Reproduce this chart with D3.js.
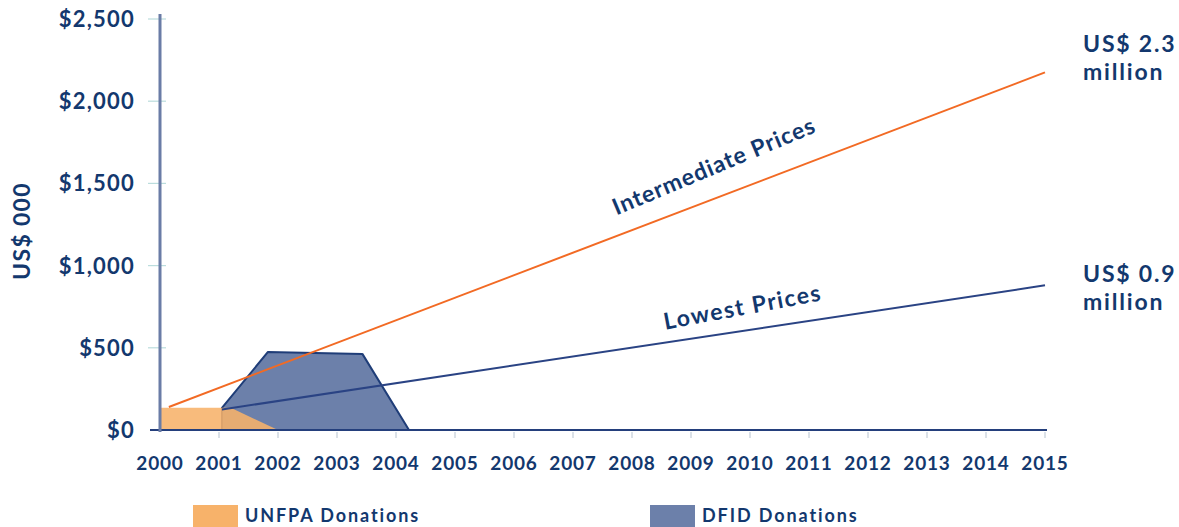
<!DOCTYPE html>
<html>
<head>
<meta charset="utf-8">
<script src="https://cdn.jsdelivr.net/npm/d3@7/dist/d3.min.js"></script>
<style>
  html, body { margin: 0; padding: 0; background: #fff; }
  svg { display: block; }
  text { font-family: Lato, "Open Sans", sans-serif; font-weight: 700; fill: #13386e; }
</style>
</head>
<body>
<svg id="chart" width="1179" height="527"></svg>
<script>
// ---- Data (US$ 000) ----
const years = [2000, 2001, 2002, 2003, 2004, 2005, 2006, 2007, 2008, 2009, 2010, 2011, 2012, 2013, 2014, 2015];
const yTicks = [0, 500, 1000, 1500, 2000, 2500];
const yTickLabels = ["$0", "$500", "$1,000", "$1,500", "$2,000", "$2,500"];

// UNFPA donations area: [year, value]
const unfpaDonations = [[2000, 135], [2001.2, 135], [2002, 0]];
// DFID donations area: [year, value]
const dfidDonations = [[2001.05, 135], [2001.83, 475], [2003.43, 463], [2004.22, 0]];
// Projection lines: [year, value]
const intermediatePrices = [[2000.15, 140], [2015, 2175]];
const lowestPrices = [[2001.05, 125], [2015, 880]];

const seriesLabels = { intermediate: "Intermediate Prices", lowest: "Lowest Prices" };
const endLabels = { intermediate: ["US$ 2.3", "million"], lowest: ["US$ 0.9", "million"] };
const legendItems = [
  { name: "UNFPA Donations", color: "#f7b26a" },
  { name: "DFID Donations", color: "#6c80aa" }
];
const yTitle = "US$ 000";

// ---- Layout ----
const svg = d3.select("#chart");
const x = d3.scaleLinear().domain([2000, 2015]).range([160, 1045]);
const y = d3.scaleLinear().domain([0, 2500]).range([430, 19]);

// faint minor ticks on y (light teal)
svg.append("g").selectAll("line").data(yTicks.slice(1)).join("line")
  .attr("x1", 148).attr("x2", 166)
  .attr("y1", d => y(d)).attr("y2", d => y(d))
  .attr("stroke", "#9fcfcf").attr("stroke-width", 1.2).attr("opacity", 0.7);

// faint ticks below x axis
svg.append("g").selectAll("line").data(years.slice(1)).join("line")
  .attr("x1", d => x(d)).attr("x2", d => x(d))
  .attr("y1", 432).attr("y2", 438)
  .attr("stroke", "#b7c3d0").attr("stroke-width", 1);

const area = d3.area().x(d => x(d[0])).y0(y(0)).y1(d => y(d[1]));
const line = d3.line().x(d => x(d[0])).y(d => y(d[1]));

// DFID area
svg.append("path").datum(dfidDonations)
  .attr("d", area)
  .attr("fill", "#6c80aa")
  .attr("stroke", "#1f3d78").attr("stroke-width", 2).attr("stroke-linejoin", "round");

// UNFPA area (on top, slightly transparent)
svg.append("path").datum(unfpaDonations)
  .attr("d", area)
  .attr("fill", "#f7b26a").attr("opacity", 0.88);

// x axis baseline
svg.append("line")
  .attr("x1", 150).attr("x2", x(2015) + 2)
  .attr("y1", y(0)).attr("y2", y(0))
  .attr("stroke", "#243f7c").attr("stroke-width", 2.2);

// y axis line
svg.append("line")
  .attr("x1", x(2000)).attr("x2", x(2000))
  .attr("y1", 14).attr("y2", 432)
  .attr("stroke", "#6a7ca6").attr("stroke-width", 3);

// projection lines
svg.append("path").datum(intermediatePrices)
  .attr("d", line).attr("fill", "none")
  .attr("stroke", "#f26a24").attr("stroke-width", 2);
svg.append("path").datum(lowestPrices)
  .attr("d", line).attr("fill", "none")
  .attr("stroke", "#2a4384").attr("stroke-width", 2);

// y tick labels
svg.append("g").selectAll("text").data(yTicks).join("text")
  .attr("x", 135).attr("y", d => y(d))
  .attr("dy", "0.36em")
  .attr("text-anchor", "end")
  .style("font-size", "22px").style("letter-spacing", "1.2px")
  .text((d, i) => yTickLabels[i]);

// x tick labels
svg.append("g").selectAll("text").data(years).join("text")
  .attr("x", d => x(d)).attr("y", 470)
  .attr("text-anchor", "middle")
  .style("font-size", "19px").style("letter-spacing", "0.8px")
  .text(d => d);

// y title
svg.append("text")
  .attr("transform", "translate(30,231) rotate(-90)")
  .attr("text-anchor", "middle")
  .style("font-size", "23px").style("letter-spacing", "1.3px")
  .text(yTitle);

// series labels along lines
function angleOf(pts) {
  const dx = x(pts[1][0]) - x(pts[0][0]);
  const dy = y(pts[1][1]) - y(pts[0][1]);
  return Math.atan2(dy, dx) * 180 / Math.PI;
}
svg.append("text")
  .attr("transform", `translate(${x(2009.44)},${y(1560)}) rotate(${angleOf(intermediatePrices) - 1.8})`)
  .attr("text-anchor", "middle")
  .style("font-size", "23px").style("letter-spacing", "1px")
  .text(seriesLabels.intermediate);
svg.append("text")
  .attr("transform", `translate(${x(2009.9)},${y(700)}) rotate(${angleOf(lowestPrices) - 2})`)
  .attr("text-anchor", "middle")
  .style("font-size", "23px").style("letter-spacing", "1.5px")
  .text(seriesLabels.lowest);

// end labels
function endLabel(lines, baseY) {
  lines.forEach((s, i) => svg.append("text")
    .attr("x", 1083).attr("y", baseY + i * 28)
    .style("font-size", "23px").style("letter-spacing", "1.8px")
    .text(s));
}
endLabel(endLabels.intermediate, 51.5);
endLabel(endLabels.lowest, 281.5);

// legend
const lg = svg.append("g").selectAll("g").data(legendItems).join("g")
  .attr("transform", (d, i) => `translate(${i === 0 ? 193 : 650},505)`);
lg.append("rect").attr("width", 45).attr("height", 22).attr("fill", d => d.color);
lg.append("text").attr("x", 52).attr("y", 17)
  .style("font-size", "18px").style("letter-spacing", "1.9px")
  .text(d => d.name);
</script>
</body>
</html>
